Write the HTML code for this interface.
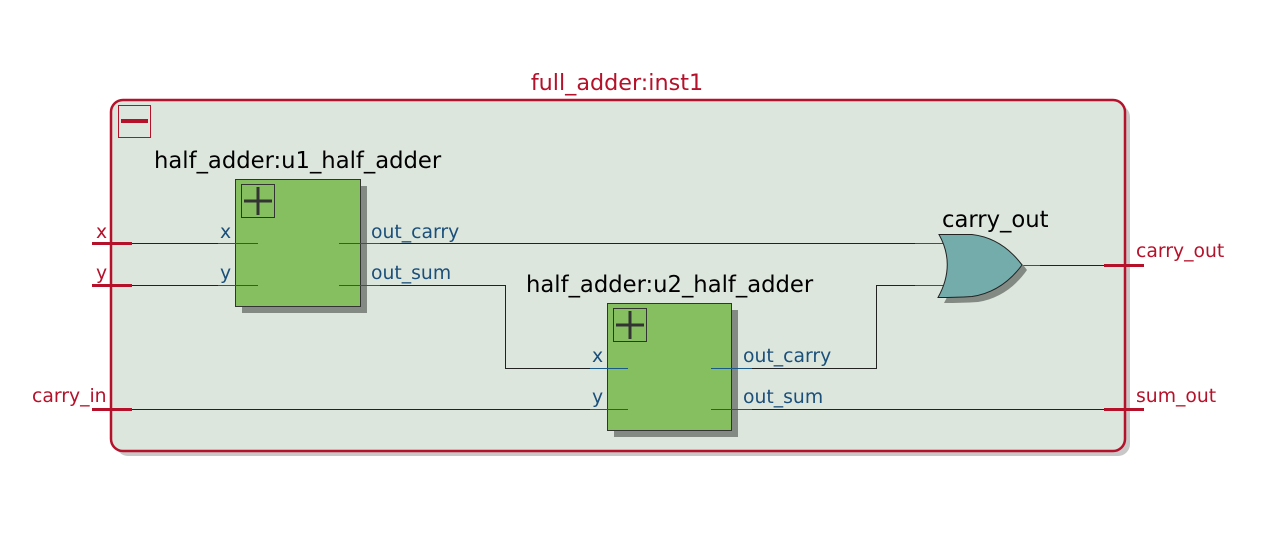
<!DOCTYPE html>
<html><head><meta charset="utf-8"><style>
html,body{margin:0;padding:0;background:#fff;}
svg{display:block;font-family:"DejaVu Sans","Liberation Sans",sans-serif;}
</style></head><body>
<svg width="1264" height="541" viewBox="0 0 1264 541">
<g>
<rect x="116" y="105" width="1014" height="351" rx="12" fill="#c8c8c8"/>
<rect x="111" y="100" width="1014" height="351" rx="12" fill="#dde6dd" stroke="#b5112a" stroke-width="2.5"/>
</g>
<text x="617" y="90" text-anchor="middle" font-size="22.3" fill="#b5112a">full_adder:inst1</text>
<g>
<rect x="118.5" y="105.5" width="32" height="32" fill="none" stroke="#b5112a" stroke-width="1"/>
<rect x="121" y="119" width="27" height="4" fill="#b5112a"/>
</g>
<!-- u1 -->
<g>
<rect x="242" y="186" width="125" height="127" fill="#838983"/>
<rect x="235.5" y="179.5" width="125" height="127" fill="#85bf5f" stroke="#333" stroke-width="1"/>
<rect x="241.5" y="184.5" width="33" height="33" fill="none" stroke="#333"/>
<path d="M244 201H272M258 187V215" stroke="#333" stroke-width="3"/>
</g>
<!-- u2 -->
<g>
<rect x="614" y="310" width="124" height="127" fill="#838983"/>
<rect x="607.5" y="303.5" width="124" height="127" fill="#85bf5f" stroke="#333" stroke-width="1"/>
<rect x="613.5" y="308.5" width="33" height="33" fill="none" stroke="#333"/>
<path d="M616 325H644M630 311V339" stroke="#333" stroke-width="3"/>
</g>
<!-- wires -->
<g fill="none" stroke="#222" stroke-width="1">
<path d="M132 243.5H258"/><path d="M132 285.5H258"/>
<path d="M339 243.5H940"/>
<path d="M339 285.5H505.5V368.5H628"/>
<path d="M132 409.5H628"/>
<path d="M711 368.5H876.5V285.5H940"/>
<path d="M711 409.5H1104"/>
<path d="M1022 265.5H1104"/>
</g>
<g stroke="#1a5a8a" stroke-width="1">
<path d="M218 243.5H258M218 285.5H258M339 243.5H380M339 285.5H380"/>
<path d="M590 368.5H628M590 409.5H628M711 368.5H752M711 409.5H752"/>
<path d="M915 243.5H945M915 285.5H945M1022 265.5H1040"/>
</g>
<g stroke="#b5112a" stroke-width="3">
<path d="M92 243.5H132M92 285.5H132M92 409.5H132M1104 265.5H1144M1104 409.5H1144"/>
</g>
<g font-size="18.8" fill="#b5112a">
<text x="96" y="238">x</text>
<text x="96" y="279">y</text>
<text x="32" y="402">carry_in</text>
<text x="1136" y="257">carry_out</text>
<text x="1136" y="402">sum_out</text>
</g>
<text x="154" y="168" font-size="22.7" fill="#000">half_adder:u1_half_adder</text>
<g font-size="18.8" fill="#1a4f7a">
<text x="220" y="238">x</text>
<text x="220" y="279">y</text>
<text x="371" y="238">out_carry</text>
<text x="371" y="279">out_sum</text>
</g>
<text x="526" y="292" font-size="22.7" fill="#000">half_adder:u2_half_adder</text>
<g font-size="18.8" fill="#1a4f7a">
<text x="592" y="362">x</text>
<text x="592" y="403">y</text>
<text x="743" y="362">out_carry</text>
<text x="743" y="403">out_sum</text>
</g>
<!-- OR gate -->
<g>
<path d="M945 240Q968 240 978 240Q1008 244 1027 270Q1008 297 978 302Q962 303 944 303Q962 271 945 240Z" fill="#838983"/>
<path d="M939 234.5Q962 234.5 972 234.5Q1002 238 1022 265Q1002 292 972 296.5Q956 297.5 938 297.5Q956 265 939 234.5Z" fill="#74acac" stroke="#222" stroke-width="1"/>
</g>
<text x="942" y="227" font-size="22.7" fill="#000">carry_out</text>
</svg>
</body></html>
